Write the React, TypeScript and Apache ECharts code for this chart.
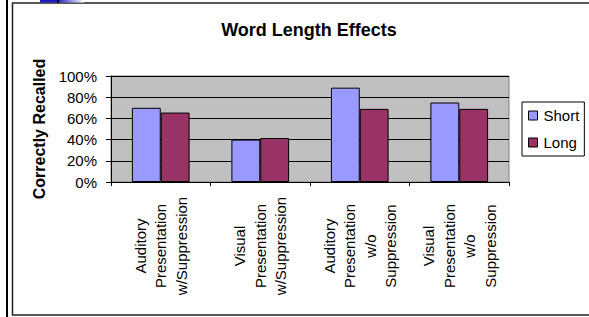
import React, { useEffect, useRef } from "react";
import * as echarts from "echarts";

const categories = [
  "Auditory\nPresentation\nw/Suppression",
  "Visual\nPresentation\nw/Suppression",
  "Auditory\nPresentation\nw/o\nSuppression",
  "Visual\nPresentation\nw/o\nSuppression",
];
const shortValues = [70, 40, 89, 75];
const longValues = [65.5, 41.5, 69, 69];
const yTicks = { min: 0, max: 100, interval: 20 };
const titleText = "Word Length Effects";
const yAxisTitle = "Correctly Recalled";
const seriesNames = ["Short", "Long"];

const FONT = "'Liberation Sans', Arial, Helvetica, sans-serif";

export default function App() {
  const ref = useRef<HTMLDivElement>(null);
  useEffect(() => {
    document.body.style.margin = "0";
    const chart = echarts.init(ref.current!, null, { renderer: "svg" });
    chart.setOption({
      animation: false,
      backgroundColor: "#ffffff",
      title: {
        text: titleText,
        left: 304,
        textAlign: "center",
        top: 16,
        textStyle: { fontFamily: FONT, fontSize: 18, fontWeight: "bold", color: "#000" },
      },
      legend: {
        orient: "vertical",
        left: 522,
        top: 102,
        itemWidth: 9,
        itemHeight: 9,
        itemGap: 12,
        padding: [6, 5, 6, 6],
        borderColor: "#000",
        borderWidth: 1,
        backgroundColor: "#fff",
        icon: "rect",
        itemStyle: { borderColor: "#000", borderWidth: 1 },
        textStyle: { fontFamily: FONT, fontSize: 15, color: "#000", padding: [0, 0, 0, 1] },
        data: seriesNames,
      },
      grid: {
        left: 111,
        right: 80,
        top: 76,
        bottom: 135,
        show: true,
        backgroundColor: "#C0C0C0",
        borderColor: "#808080",
        borderWidth: 1,
        containLabel: false,
      },
      xAxis: {
        type: "category",
        data: categories,
        axisLine: { lineStyle: { color: "#000", width: 1 } },
        axisTick: { show: true, length: 4, lineStyle: { color: "#000" } },
        axisLabel: {
          interval: 0,
          rotate: 90,
          align: "center",
          verticalAlign: "middle",
          margin: 64,
          lineHeight: 20.5,
          fontFamily: FONT,
          fontSize: 15,
          color: "#000",
        },
      },
      yAxis: {
        type: "value",
        min: yTicks.min,
        max: yTicks.max,
        interval: yTicks.interval,
        name: yAxisTitle,
        nameLocation: "middle",
        nameGap: 63,
        nameTextStyle: { fontFamily: FONT, fontSize: 16, fontWeight: "bold", color: "#000" },
        axisLine: { show: true, lineStyle: { color: "#000", width: 1 } },
        axisTick: { show: true, length: 5, lineStyle: { color: "#000" } },
        splitLine: { show: true, lineStyle: { color: "#000", width: 1 } },
        axisLabel: {
          formatter: "{value}%",
          margin: 14,
          fontFamily: FONT,
          fontSize: 15,
          color: "#000",
        },
      },
      series: [
        {
          name: seriesNames[0],
          type: "bar",
          data: shortValues,
          barGap: "0%",
          barCategoryGap: "42%",
          itemStyle: { color: "#9999FF", borderColor: "#000", borderWidth: 1 },
        },
        {
          name: seriesNames[1],
          type: "bar",
          data: longValues,
          barGap: "0%",
          barCategoryGap: "42%",
          itemStyle: { color: "#993366", borderColor: "#000", borderWidth: 1 },
        },
      ],
      graphic: [
        {
          type: "rect",
          shape: { x: 6, y: 0, width: 2, height: 317 },
          style: { fill: "#000" },
          silent: true,
        },
        {
          type: "rect",
          shape: { x: 12.5, y: 3, width: 620, height: 312 },
          style: { fill: "none", stroke: "#222", lineWidth: 1.5 },
          silent: true,
        },
        {
          type: "rect",
          shape: { x: 40, y: 0, width: 44, height: 2.5 },
          style: {
            fill: new echarts.graphic.LinearGradient(0, 0, 1, 0, [
              { offset: 0, color: "#2020C0" },
              { offset: 0.4, color: "#2020C0" },
              { offset: 1, color: "#ffffff" },
            ]),
          },
          silent: true,
        },
        {
          type: "rect",
          shape: { x: 57, y: 0, width: 2, height: 2.5 },
          style: { fill: "#000" },
          silent: true,
        },
      ],
    });
    return () => chart.dispose();
  }, []);
  return (
    <div
      ref={ref}
      style={{ position: "absolute", left: 0, top: 0, width: 589, height: 317 }}
    />
  );
}
